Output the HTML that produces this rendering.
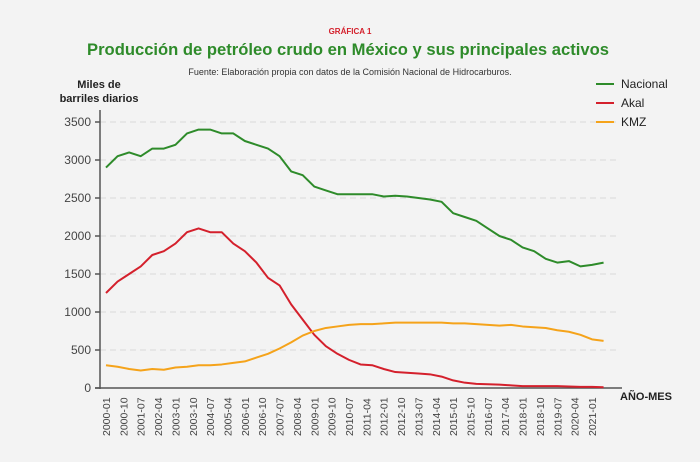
<!DOCTYPE html>
<html><head><meta charset="utf-8">
<style>
body{margin:0;background:#f3f3f3;font-family:"Liberation Sans",sans-serif;}
svg{display:block}
</style></head>
<body>
<svg width="700" height="462" viewBox="0 0 700 462">
<rect width="700" height="462" fill="#f3f3f3"/>
<text x="350" y="34" text-anchor="middle" font-size="8" font-weight="bold" fill="#d4202c">GRÁFICA 1</text>
<text x="348" y="55" text-anchor="middle" font-size="16.6" font-weight="bold" fill="#2e8b2a">Producción de petróleo crudo en México y sus principales activos</text>
<text x="350" y="75" text-anchor="middle" font-size="9" fill="#333">Fuente: Elaboración propia con datos de la Comisión Nacional de Hidrocarburos.</text>
<text x="99" y="88" text-anchor="middle" font-size="11" font-weight="bold" fill="#222"><tspan x="99">Miles de</tspan><tspan x="99" dy="14">barriles diarios</tspan></text>
<text x="620" y="400" font-size="11" font-weight="bold" fill="#222">AÑO-MES</text>
<g id="grid"></g><g id="axes"></g><g id="series"></g><g id="legend"></g>
</svg>
<script>
const yTicks=[0,500,1000,1500,2000,2500,3000,3500];
const xLabels=["2000-01","2000-10","2001-07","2002-04","2003-01","2003-10","2004-07","2005-04","2006-01","2006-10","2007-07","2008-04","2009-01","2009-10","2010-07","2011-04","2012-01","2012-10","2013-07","2014-04","2015-01","2015-10","2016-07","2017-04","2018-01","2018-10","2019-07","2020-04","2021-01"];
const times=[2000,2000.5,2001,2001.5,2002,2002.5,2003,2003.5,2004,2004.5,2005,2005.5,2006,2006.5,2007,2007.5,2008,2008.5,2009,2009.5,2010,2010.5,2011,2011.5,2012,2012.5,2013,2013.5,2014,2014.5,2015,2015.5,2016,2016.5,2017,2017.5,2018,2018.5,2019,2019.5,2020,2020.5,2021,2021.5];
const nacional=[2900,3050,3100,3050,3150,3150,3200,3350,3400,3400,3350,3350,3250,3200,3150,3050,2850,2800,2650,2600,2550,2550,2550,2550,2520,2530,2520,2500,2480,2450,2300,2250,2200,2100,2000,1950,1850,1800,1700,1650,1670,1600,1620,1650];
const akal=[1250,1400,1500,1600,1750,1800,1900,2050,2100,2050,2050,1900,1800,1650,1450,1350,1100,900,700,550,450,370,310,300,250,210,200,190,180,150,100,70,55,50,45,35,25,25,25,25,20,15,15,10];
const kmz=[300,280,250,230,250,240,270,280,300,300,310,330,350,400,450,520,600,690,750,790,810,830,840,840,850,860,860,860,860,860,850,850,840,830,820,830,810,800,790,760,740,700,640,620];
const seriesNames=["Nacional","Akal","KMZ"];
const colors=["#2e8b2a","#d4202c","#f5a31a"];
const NS="http://www.w3.org/2000/svg";
const x0=106,pxPerMonth=486/252,yBase=388,pxPerUnit=266/3500;
const xs=t=>x0+(t-2000)*12*pxPerMonth;
const ys=v=>yBase-v*pxPerUnit;
function mk(tag,attrs,parent){const e=document.createElementNS(NS,tag);for(const k in attrs)e.setAttribute(k,attrs[k]);parent.appendChild(e);return e;}
const grid=document.getElementById('grid'),axes=document.getElementById('axes'),ser=document.getElementById('series'),leg=document.getElementById('legend');
yTicks.forEach(v=>{
  if(v>0){const g=mk('line',{x1:100,x2:620,y1:ys(v),y2:ys(v),stroke:'#d8d8d8','stroke-dasharray':'6,4'},grid);
  
  }
  const tk=mk('line',{x1:95,x2:100,y1:ys(v),y2:ys(v),stroke:'#555','stroke-width':1.5},axes);
  
  
  const t=mk('text',{x:91,y:ys(v)+4,'text-anchor':'end','font-size':12,fill:'#444'},axes);t.textContent=v;
  
  
});
const ya=mk('line',{x1:100,x2:100,y1:110,y2:389,stroke:'#555','stroke-width':1.5},axes);


const xa=mk('line',{x1:95,x2:622,y1:388,y2:388,stroke:'#555','stroke-width':1.5},axes);


xLabels.forEach(l=>{
  const [yr,mo]=l.split('-').map(Number);const x=xs(yr+(mo-1)/12);
  const t=mk('text',{transform:`translate(${x+4},${436}) rotate(-90)`,'font-size':10.5,fill:'#444'},axes);t.textContent=l;
  
  
});
[nacional,akal,kmz].forEach((d,i)=>{
  const p=mk('polyline',{points:d.map((v,j)=>xs(times[j])+','+ys(v)).join(' '),fill:'none',stroke:colors[i],'stroke-width':2,'stroke-linejoin':'round'},ser);
  
  
  const ly=84+i*19;
  const ll=mk('line',{x1:596,x2:614,y1:ly,y2:ly,stroke:colors[i],'stroke-width':2},leg);
  
  
  const lt=mk('text',{x:621,y:ly+4,'font-size':12,fill:'#222'},leg);lt.textContent=seriesNames[i];
  
  
});
</script>
</body></html>
